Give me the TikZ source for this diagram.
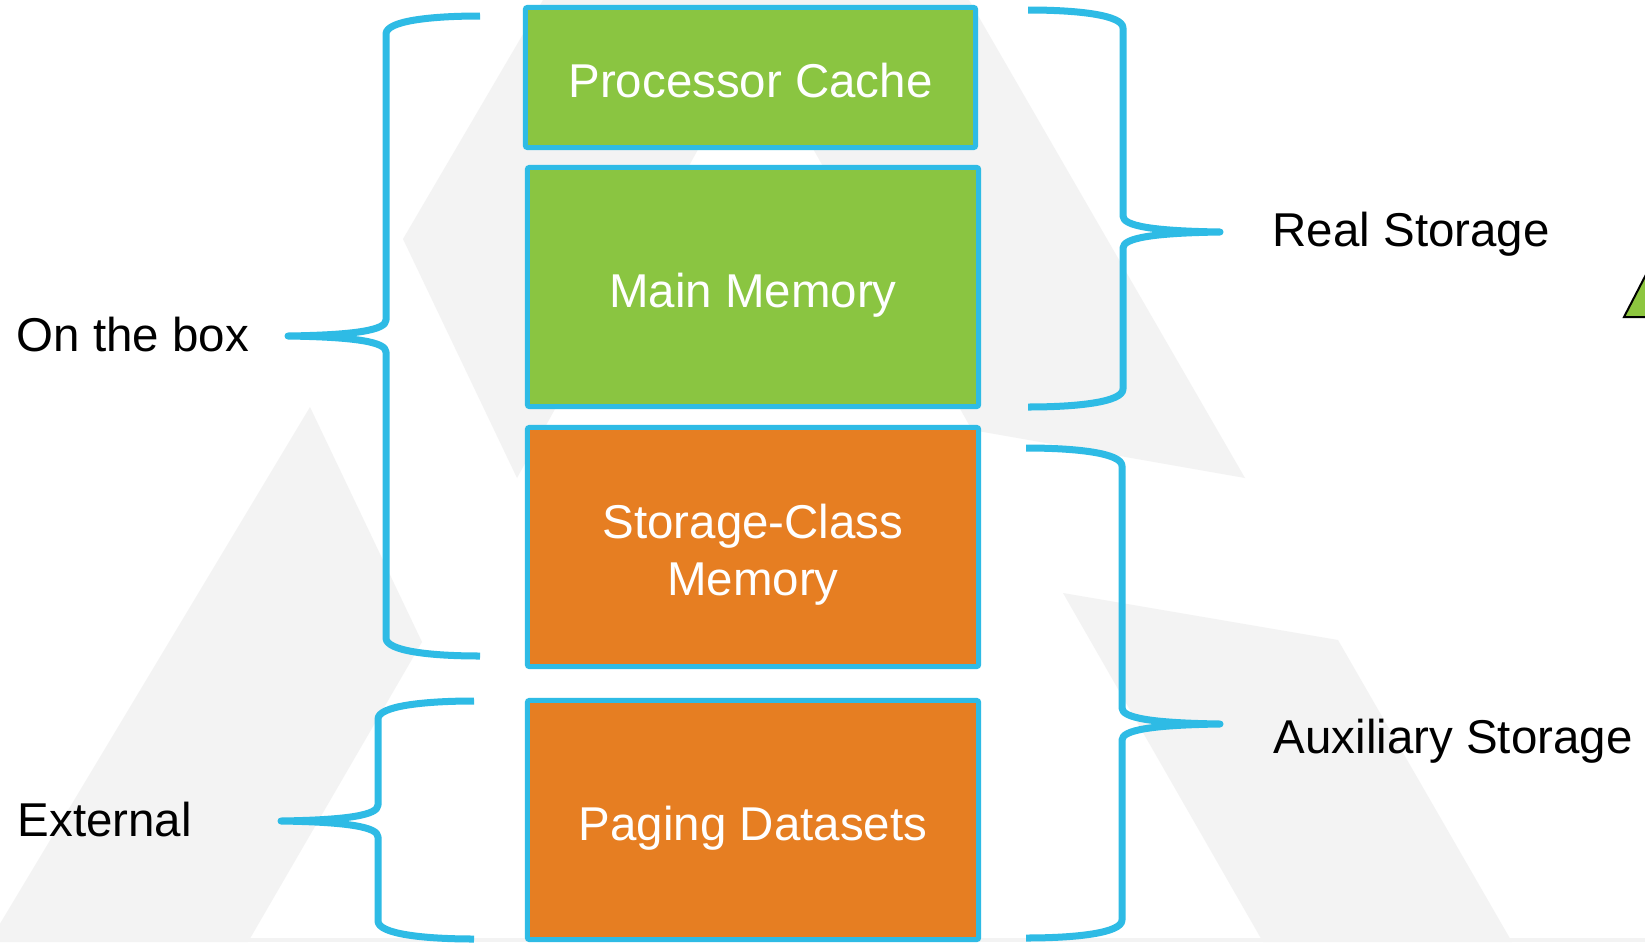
\documentclass[tikz,border=0pt]{standalone}
\usepackage{fontspec}
\setmainfont{Liberation Sans}
\definecolor{bggray}{HTML}{F3F3F3}
\definecolor{boxgreen}{HTML}{8AC541}
\definecolor{boxorange}{HTML}{E67E22}
\definecolor{lineblue}{HTML}{2EBBE5}
\definecolor{trigreen}{HTML}{8DC63F}
% left-opening brace: xe, xv, xtip, ytop, ybottom, ytip
\newcommand{\braceL}[6]{%
\draw[brace] (#1,#4) .. controls (#1-50,#4) and (#2,#4+5) .. (#2,#4+18)
  -- (#2,#6-16) .. controls (#2,#6-6) and (#2-30,#6-1) .. (#3,#6)
  .. controls (#2-30,#6+1) and (#2,#6+6) .. (#2,#6+16)
  -- (#2,#5-18) .. controls (#2,#5-5) and (#1-50,#5) .. (#1,#5);}
\newcommand{\braceR}[6]{%
\draw[brace] (#1,#4) .. controls (#1+50,#4) and (#2,#4+5) .. (#2,#4+18)
  -- (#2,#6-16) .. controls (#2,#6-6) and (#2+30,#6-1) .. (#3,#6)
  .. controls (#2+30,#6+1) and (#2,#6+6) .. (#2,#6+16)
  -- (#2,#5-18) .. controls (#2,#5-5) and (#1+50,#5) .. (#1,#5);}
\begin{document}
\begin{tikzpicture}[x=0.01cm,y=-0.01cm,
  mem/.style={draw=lineblue, line width=0.05cm, text=white,
    font=\fontsize{13.5}{16.2}\selectfont, align=center, inner sep=0pt,
    outer sep=0pt, rounded corners=0.02cm},
  oneline/.style={text height=11.4pt, text depth=0pt},
  brace/.style={draw=lineblue, line width=0.07cm, line join=round},
  lab/.style={font=\fontsize{13.5}{16}\selectfont, anchor=base west, inner sep=0pt}]
\useasboundingbox (0,0) rectangle (1645,942);
\clip (0,0) rectangle (1645,942);
\fill[white] (0,0) rectangle (1645,942);
% background shapes
\fill[bggray] (543,0) -- (403,239) -- (517,478) -- (755,46) -- (972,430) -- (1245,478) -- (969,0) -- cycle;
\fill[bggray] (310,407) -- (422,642) -- (248,942) -- (-11,942) -- cycle;
\fill[bggray] (1063,593) -- (1338,640) -- (1512,942) -- (1263,942) -- cycle;
\fill[bggray] (0,938) rectangle (1645,942);
\filldraw[fill=trigreen, draw=black, line width=0.02cm] (1624,317) -- (1652,263) -- (1652,317) -- cycle;
% memory boxes
\node[mem, oneline, fill=boxgreen, minimum width=4.50cm, minimum height=1.40cm] (pc) at (750.5,77.5) {Processor Cache};
\node[mem, oneline, fill=boxgreen, minimum width=4.51cm, minimum height=2.39cm] (mm) at (753,287) {Main Memory};
\node[mem, fill=boxorange, minimum width=4.51cm, minimum height=2.39cm] (scm) at (753,547) {\rule{0pt}{14pt}Storage-Class\\Memory};
\node[mem, oneline, fill=boxorange, minimum width=4.51cm, minimum height=2.39cm] (pd) at (753,820) {Paging Datasets};
% braces
\braceL{480}{386}{288}{16}{656}{336}
\braceL{474}{378}{281}{701}{939}{821}
\braceR{1028}{1123}{1220}{10}{407}{232}
\braceR{1026}{1122}{1220}{448}{938}{724}
% labels
\node[lab] (onbox) at (16,351) {On the box};
\node[lab] (ext) at (17,836) {External};
\node[lab] (real) at (1272,246) {Real Storage};
\node[lab] (aux) at (1273,753) {Auxiliary Storage};
\end{tikzpicture}
\end{document}
